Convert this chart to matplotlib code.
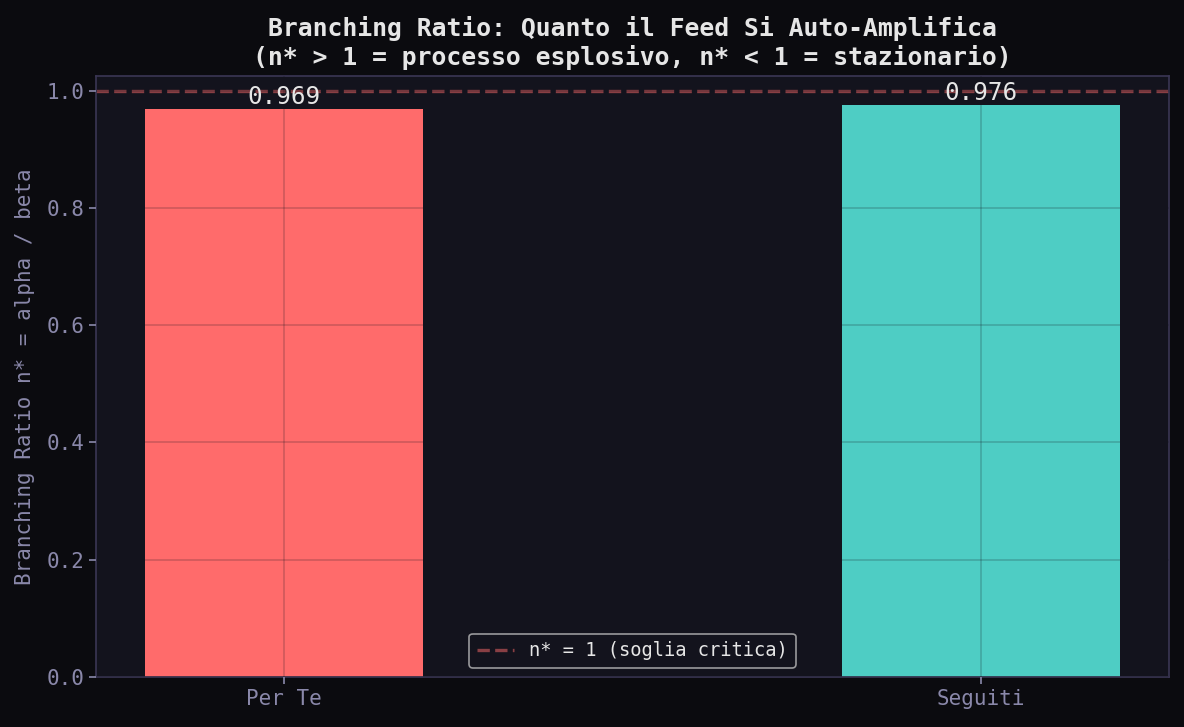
import matplotlib
matplotlib.use("Agg")
import matplotlib.pyplot as plt

categories = ["Per Te", "Seguiti"]
values = [0.969, 0.976]
colors = ["#FF6B6B", "#4ECDC4"]
threshold = 1.0

plt.rcParams['font.family'] = ['DejaVu Sans Mono', 'DejaVu Sans']

fig = plt.figure(figsize=(11.84, 7.27), dpi=100, facecolor="#0b0b0f")
ax = fig.add_axes([96/1184, 50/727, (1169-96)/1184, (677-76)/727])
ax.set_facecolor("#13131d")

x = list(range(len(categories)))
bars = ax.bar(x, values, width=0.4, color=colors)
ax.axhline(threshold, color="#FF6B6B", alpha=0.5, linestyle="--", linewidth=2.4,
           label="n* = 1 (soglia critica)")
for xi, v in zip(x, values):
    ax.text(xi, v, f"{v:.3f}", ha="center", va="bottom", color="#e6e6e6", fontsize=17.5)

ax.set_xticks(x)
ax.set_xticklabels(categories)
ax.set_axisbelow(False)
ax.grid(True, color="#14141e", alpha=0.18, linewidth=1.4)
ax.tick_params(colors="#8a88aa", labelsize=15, length=5, width=1.2)
for s in ax.spines.values():
    s.set_color("#3a3654")
    s.set_linewidth(1.2)
ax.set_ylabel("Branching Ratio n* = alpha / beta", color="#8a88aa", fontsize=15, labelpad=8)
ax.set_title("Branching Ratio: Quanto il Feed Si Auto-Amplifica\n(n* > 1 = processo esplosivo, n* < 1 = stazionario)",
             color="#e6e6e6", fontsize=17.8, fontweight="bold", pad=8)
leg = ax.legend(loc="lower center", fontsize=13.5, facecolor="#13131d", edgecolor="#bbbbbb",
                labelcolor="#e6e6e6")
leg.get_frame().set_linewidth(1.2)
fig.savefig("out.png", dpi=100, facecolor=fig.get_facecolor())
